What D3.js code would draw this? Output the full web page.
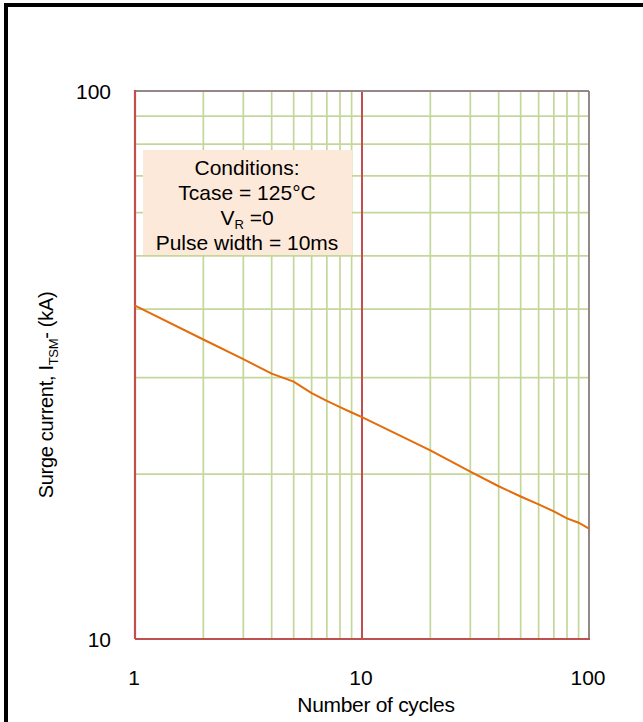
<!DOCTYPE html>
<html>
<head>
<meta charset="utf-8">
<script src="https://cdn.jsdelivr.net/npm/d3@7"></script>
<style>
  body { margin: 0; background: #fff; }
  svg { display: block; font-family: "Liberation Sans", Arial, sans-serif; }
</style>
</head>
<body>
<div id="wrapper"></div>
<script>
// data
var cycles = [1, 2, 3, 4, 5, 6, 7, 8, 9, 10, 20, 30, 40, 50, 60, 70, 80, 90, 100]
var surgeKA = [40.6, 35.2, 32.4, 30.5, 29.5, 28.1, 27.2, 26.5, 25.9, 25.4,
    22.1, 20.2, 19.0, 18.2, 17.6, 17.1, 16.6, 16.3, 15.9]
var xTicks = [1, 10, 100]
var yTicks = [10, 100]
var xMinor = [2, 3, 4, 5, 6, 7, 8, 9, 20, 30, 40, 50, 60, 70, 80, 90]
var yMinor = [20, 30, 40, 50, 60, 70, 80, 90]
var noteLines = ["Conditions:", "Tcase = 125°C", "VR", "Pulse width = 10ms"]

let dimensions = {
    width: 643,
    height: 722,
    margin: { top: 91, right: 54, bottom: 83, left: 135 }
}
dimensions.boundedWidth = dimensions.width - dimensions.margin.left - dimensions.margin.right
dimensions.boundedHeight = dimensions.height - dimensions.margin.top - dimensions.margin.bottom

let svg = d3.select("#wrapper")
    .append("svg")
    .attr("width", dimensions.width)
    .attr("height", dimensions.height)

// outer frame (only top and left edges visible)
svg.append("rect")
    .attr("x", 6).attr("y", 5)
    .attr("width", 800).attr("height", 900)
    .attr("fill", "none")
    .attr("stroke", "#000")
    .attr("stroke-width", 4)

const bounds = svg.append("g")
    .attr("transform", `translate(${dimensions.margin.left},${dimensions.margin.top})`)

let x = d3.scaleLog().domain([1, 100]).range([0, dimensions.boundedWidth])
let y = d3.scaleLog().domain([10, 100]).range([dimensions.boundedHeight, 0])

const green = "#c4d79b"
const red = "#c0504d"
const gray = "#948787"

// grid
bounds.append("g").selectAll("line")
    .data(xMinor)
    .enter().append("line")
    .attr("x1", d => x(d)).attr("x2", d => x(d))
    .attr("y1", 0).attr("y2", dimensions.boundedHeight)
    .attr("stroke", green).attr("stroke-width", 1.7)

bounds.append("g").selectAll("line")
    .data(yMinor)
    .enter().append("line")
    .attr("y1", d => y(d)).attr("y2", d => y(d))
    .attr("x1", 0).attr("x2", dimensions.boundedWidth)
    .attr("stroke", green).attr("stroke-width", 1.7)

// conditions box
const note = bounds.append("g")
note.append("rect")
    .attr("x", 8).attr("y", 59)
    .attr("width", 209).attr("height", 105)
    .attr("fill", "#fde9d9")

const noteText = note.append("text")
    .attr("text-anchor", "middle")
    .attr("font-size", 21)
    .attr("fill", "#000")
noteLines.forEach((t, i) => {
    let ty = 84 + i * 25
    if (t === "VR") {
        let line = noteText.append("tspan").attr("x", 112).attr("y", ty)
        line.text("V")
        line.append("tspan").attr("font-size", 13).attr("dy", 4).text("R")
        line.append("tspan").attr("dy", -4).text(" =0")
    } else {
        noteText.append("tspan").attr("x", 112).attr("y", ty).text(t)
    }
})

// major line at 10 cycles
bounds.append("line")
    .attr("x1", x(10)).attr("x2", x(10))
    .attr("y1", 0).attr("y2", dimensions.boundedHeight)
    .attr("stroke", red).attr("stroke-width", 2)

// plot borders
bounds.append("line")
    .attr("x1", 0).attr("x2", dimensions.boundedWidth)
    .attr("y1", 0).attr("y2", 0)
    .attr("stroke", gray).attr("stroke-width", 2)
bounds.append("line")
    .attr("x1", dimensions.boundedWidth).attr("x2", dimensions.boundedWidth)
    .attr("y1", 0).attr("y2", dimensions.boundedHeight)
    .attr("stroke", gray).attr("stroke-width", 2)
bounds.append("line")
    .attr("x1", 0).attr("x2", 0)
    .attr("y1", -1).attr("y2", dimensions.boundedHeight)
    .attr("stroke", red).attr("stroke-width", 2.2)
bounds.append("line")
    .attr("x1", 0).attr("x2", dimensions.boundedWidth + 1)
    .attr("y1", dimensions.boundedHeight).attr("y2", dimensions.boundedHeight)
    .attr("stroke", red).attr("stroke-width", 2.2)

// curve
bounds.append("path")
    .datum(cycles.map((c, i) => [c, surgeKA[i]]))
    .attr("fill", "none")
    .attr("stroke", "#e46c0a")
    .attr("stroke-width", 2)
    .attr("d", d3.line().x(d => x(d[0])).y(d => y(d[1])))

// tick labels
bounds.append("g").selectAll("text")
    .data(xTicks)
    .enter().append("text")
    .attr("x", d => x(d) - 1)
    .attr("y", dimensions.boundedHeight + 46)
    .attr("text-anchor", "middle")
    .attr("font-size", 21)
    .text(d => d)

bounds.append("g").selectAll("text")
    .data(yTicks)
    .enter().append("text")
    .attr("x", -24)
    .attr("y", d => y(d) + 8)
    .attr("text-anchor", "end")
    .attr("font-size", 21)
    .text(d => d)

// axis titles
bounds.append("text")
    .attr("x", 241)
    .attr("y", dimensions.boundedHeight + 73)
    .attr("text-anchor", "middle")
    .attr("font-size", 21)
    .attr("letter-spacing", -0.3)
    .text("Number of cycles")

const yTitle = svg.append("text")
    .attr("transform", "translate(53,395) rotate(-90)")
    .attr("text-anchor", "middle")
    .attr("font-size", 20)
    .attr("letter-spacing", -0.3)
yTitle.append("tspan").text("Surge current, I")
yTitle.append("tspan").attr("font-size", 13).attr("dy", 5).text("TSM")
yTitle.append("tspan").attr("dy", -5).text("- (kA)")
</script>
</body>
</html>
